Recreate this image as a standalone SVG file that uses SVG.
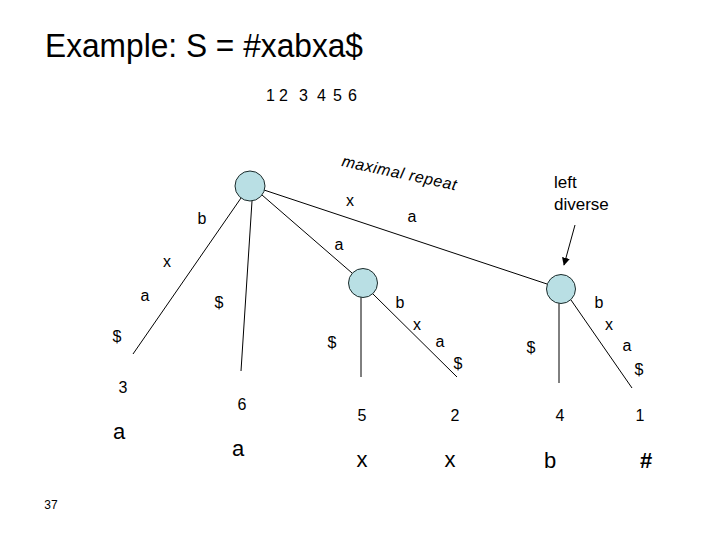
<svg xmlns="http://www.w3.org/2000/svg" width="720" height="540" viewBox="0 0 720 540">
<style>
text{font-family:"Liberation Sans",Arial,sans-serif;fill:#000}
.lbl{font-size:16px;text-anchor:middle}
.big{font-size:22px;text-anchor:middle}
.node{fill:#b9dfe4;stroke:#1a2a2a;stroke-width:1}
.edge{stroke:#000;stroke-width:1;fill:none}
</style>
<defs>
<marker id="ah" viewBox="0 0 10 10" refX="9" refY="5" markerWidth="8" markerHeight="8" orient="auto" markerUnits="userSpaceOnUse">
<path d="M0,0 L10,5 L0,10 z" fill="#000"/>
</marker>
</defs>
<rect width="720" height="540" fill="#fff"/>
<text x="45" y="57" font-size="33" textLength="318" lengthAdjust="spacingAndGlyphs">Example: S = #xabxa$</text>
<text font-size="16"><tspan x="266" y="101">1</tspan><tspan x="279" y="101">2</tspan><tspan x="299" y="101">3</tspan><tspan x="317" y="101">4</tspan><tspan x="333" y="101">5</tspan><tspan x="348" y="101">6</tspan></text>
<text x="341" y="166" font-size="16" font-style="italic" textLength="117" transform="rotate(12 341 166)">maximal repeat</text>
<text x="554" y="188" font-size="17">left</text>
<text x="554" y="210" font-size="17">diverse</text>
<g id="connectors">
<line class="edge" x1="241" y1="198" x2="133" y2="354"/>
<line class="edge" x1="252" y1="201" x2="241" y2="371"/>
<line class="edge" x1="262" y1="195" x2="352" y2="273"/>
<line class="edge" x1="264" y1="190" x2="547" y2="284"/>
<line class="edge" x1="361" y1="297" x2="361" y2="377"/>
<line class="edge" x1="373" y1="294" x2="457" y2="377"/>
<line class="edge" x1="559" y1="303" x2="559" y2="383"/>
<line class="edge" x1="571" y1="300" x2="632" y2="388"/>
<line class="edge" x1="575" y1="225" x2="564" y2="265" stroke-width="2" marker-end="url(#ah)"/>
</g>
<g id="root"><circle class="node" cx="250" cy="186" r="15"/></g>
<g id="node-a"><circle class="node" cx="363" cy="283" r="14.5"/></g>
<g id="node-xa"><circle class="node" cx="561" cy="289" r="14.5"/></g>
<g id="edge-labels">
<text class="lbl" x="350" y="206">x</text>
<text class="lbl" x="412" y="222">a</text>
<text class="lbl" x="202" y="224">b</text>
<text class="lbl" x="339" y="250">a</text>
<text class="lbl" x="167" y="267">x</text>
<text class="lbl" x="145" y="301">a</text>
<text class="lbl" x="117" y="342">$</text>
<text class="lbl" x="219" y="308">$</text>
<text class="lbl" x="400" y="308">b</text>
<text class="lbl" x="417" y="330">x</text>
<text class="lbl" x="440" y="347">a</text>
<text class="lbl" x="458" y="369">$</text>
<text class="lbl" x="332" y="348">$</text>
<text class="lbl" x="531" y="353">$</text>
<text class="lbl" x="599" y="308">b</text>
<text class="lbl" x="609" y="330">x</text>
<text class="lbl" x="627" y="351">a</text>
<text class="lbl" x="639" y="375">$</text>
</g>
<g id="leaf-3"><text class="lbl" x="123" y="393">3</text><text class="big" x="119" y="439">a</text></g>
<g id="leaf-6"><text class="lbl" x="242" y="410">6</text><text class="big" x="238" y="456">a</text></g>
<g id="leaf-5"><text class="lbl" x="362" y="421">5</text><text class="big" x="362" y="467">x</text></g>
<g id="leaf-2"><text class="lbl" x="455" y="421">2</text><text class="big" x="450" y="467">x</text></g>
<g id="leaf-4"><text class="lbl" x="560" y="421">4</text><text class="big" x="550" y="468">b</text></g>
<g id="leaf-1"><text class="lbl" x="640" y="421">1</text><text class="big" x="646" y="468" font-weight="bold">#</text></g>
<text x="51" y="509" font-size="12" text-anchor="middle">37</text>
</svg>
